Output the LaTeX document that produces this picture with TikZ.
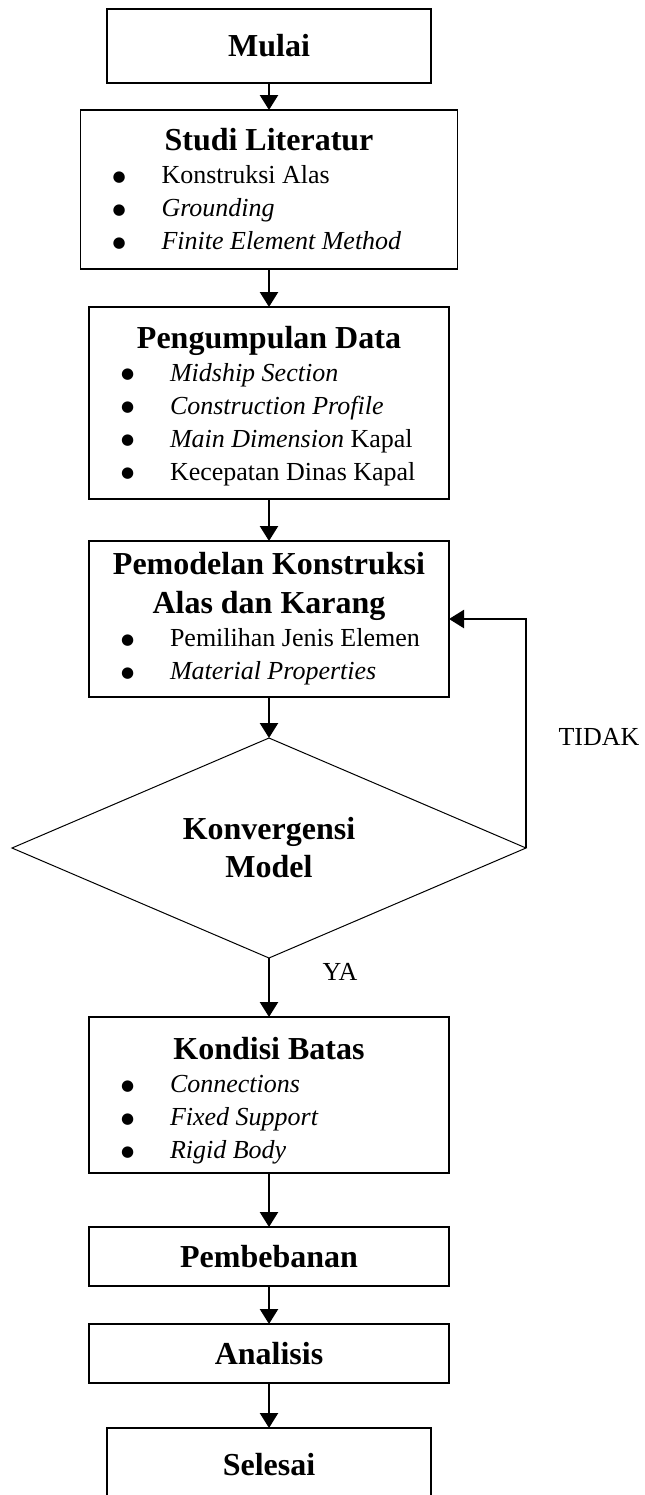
\documentclass[tikz,border=0pt]{standalone}
\usepackage{fontspec}
\setmainfont{Liberation Serif}
\newfontfamily\simbol{DejaVu Sans}
\usepackage{tikz}
\usetikzlibrary{shapes.geometric, arrows.meta, positioning}

\newcommand{\judul}[1]{{\fontsize{16}{19}\selectfont\bfseries #1}}
\newcommand{\titik}{\raisebox{1.2pt}{\simbol\fontsize{7.5}{7.5}\selectfont ●}}
\newcommand{\butir}[2][148pt]{\makebox[#1][l]{\makebox[24.5pt][l]{\titik}#2}}

\begin{document}
\begin{tikzpicture}[
        x=0.5pt, y=-0.5pt,
        box/.style={rectangle, draw, line width=0.8pt, outer sep=0pt, align=center, inner sep=0pt, minimum width=180pt, font=\fontsize{13}{16.5}\selectfont},
        decision/.style={diamond, draw, line width=0.5pt, outer sep=0pt, aspect=2.34, align=center, inner sep=0pt, minimum width=257pt, minimum height=110pt, font=\fontsize{16}{19}\selectfont\bfseries},
        arrow/.style={-{Triangle[width=9pt, length=7.5pt]}, line width=1.2pt},
        note/.style={font=\fontsize{13}{16}\selectfont}
        ]
        \useasboundingbox (0,0) rectangle (644,1495);

        \node[box, minimum width=162pt, minimum height=37pt] (mulai) at (269,46) {\judul{Mulai}};
        \node[box, below=13.5pt of mulai, minimum width=188.5pt, minimum height=79.5pt] (studi) {\judul{Studi Literatur}\\
            \butir[156.5pt]{Konstruksi Alas}\\
            \butir[156.5pt]{\textit{Grounding}}\\
            \butir[156.5pt]{\textit{Finite Element Method}}};
        \node[box, below=19pt of studi, minimum height=96pt] (data) {\rule{0pt}{14pt}\judul{Pengumpulan Data}\\
            \butir{\textit{Midship Section}}\\
            \butir{\textit{Construction Profile}}\\
            \butir{\textit{Main Dimension} Kapal}\\
            \butir{Kecepatan Dinas Kapal}};
        \node[box, below=21pt of data, minimum height=78pt] (model) {\judul{Pemodelan Konstruksi}\\[3pt]
            \judul{Alas dan Karang}\\
            \butir{Pemilihan Jenis Elemen}\\
            \butir{\textit{Material Properties}}};
        \node[decision, below=20.5pt of model] (konv) {Konvergensi\\Model};
        \node[box, below=29.5pt of konv, minimum height=78pt] (batas) {\rule{0pt}{17pt}\judul{Kondisi Batas}\\
            \butir{\textit{Connections}}\\
            \butir{\textit{Fixed Support}}\\
            \butir{\textit{Rigid Body}}};
        \node[box, below=27pt of batas, minimum height=29.5pt] (beban) {\judul{Pembebanan}};
        \node[box, below=19pt of beban, minimum height=29.5pt] (analisis) {\judul{Analisis}};
        \node[box, below=22.5pt of analisis, minimum width=162pt, minimum height=37pt] (selesai) {\judul{Selesai}};

        \node[note] (tidak) at (599,737) {TIDAK};
        \node[note] (ya) at (340,972) {YA};

        \draw[arrow] (mulai) -- (studi);
        \draw[arrow] (studi) -- (data);
        \draw[arrow] (data) -- (model);
        \draw[arrow] (model) -- (konv);
        \draw[arrow] (konv) -- (batas);
        \draw[arrow] (konv.east) |- (model.east);
        \draw[arrow] (batas) -- (beban);
        \draw[arrow] (beban) -- (analisis);
        \draw[arrow] (analisis) -- (selesai);
    \end{tikzpicture}
\end{document}
